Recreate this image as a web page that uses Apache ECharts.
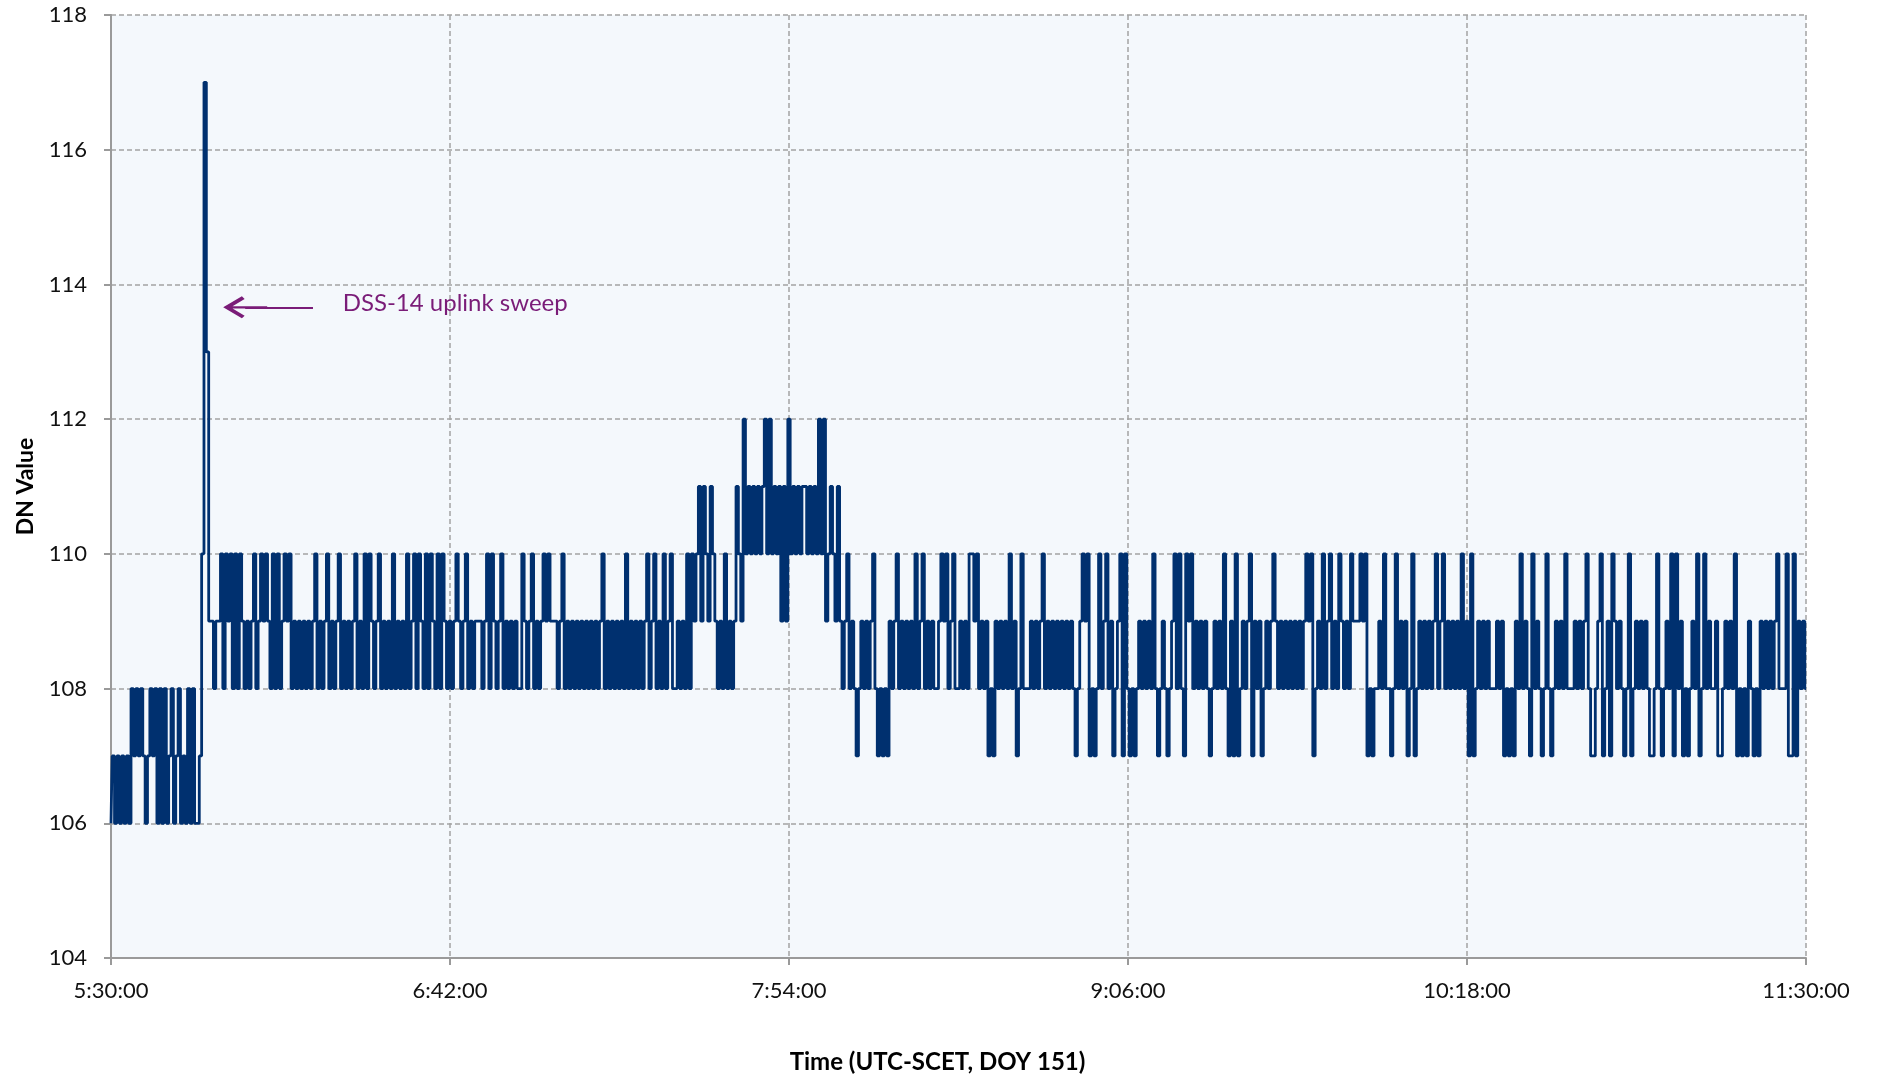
<!DOCTYPE html>
<html>
<head>
<meta charset="utf-8">
<script src="https://cdn.jsdelivr.net/npm/echarts@6/dist/echarts.min.js"></script>
<style>
html,body{margin:0;padding:0;background:#fff;}
#chart{width:1877px;height:1079px;}
</style>
</head>
<body>
<div id="chart"></div>
<script>
// Sample spacing (minutes) and hourly blocks of DN values starting at 5:30, 6:30, ... 10:30
const sampleStepMin = 0.5;
const hour1 = [106,107,106,107,106,107,106,107,106,108,107,108,107,108,107,106,107,108,107,108,
  106,108,106,108,106,107,108,106,107,108,106,107,106,108,106,108,106,106,107,110,
  117,113,109,109,108,109,109,110,108,110,109,110,108,110,108,110,109,108,109,108,
  109,110,108,109,110,109,110,109,108,110,108,110,108,109,110,109,110,108,109,108,
  109,108,109,108,109,108,109,110,108,109,108,109,110,108,109,108,109,110,108,109,
  108,109,108,109,110,108,109,108,110,108,110,109,108,109,110,108,109,108,109,108];
const hour2 = [110,108,109,108,109,108,110,108,109,110,108,110,109,108,110,108,110,109,108,110,
  108,110,109,108,109,108,109,110,109,108,109,110,108,109,108,109,109,109,108,109,
  110,108,110,109,108,109,110,108,109,108,109,108,109,108,108,110,109,108,109,110,
  108,109,108,109,110,109,110,109,109,109,108,109,110,108,109,108,109,108,109,108,
  109,108,109,108,109,108,109,108,109,110,108,109,108,109,108,109,108,109,108,110,
  108,109,108,109,108,109,108,109,110,108,109,110,108,109,108,110,108,109,110,108];
const hour3 = [108,109,108,109,108,110,108,110,109,110,111,109,111,110,109,111,110,109,108,109,
  108,110,108,109,108,109,111,110,109,112,110,111,110,111,110,111,110,111,112,110,
  112,110,111,110,111,109,111,109,112,110,111,110,111,110,111,111,110,111,110,111,
  110,112,110,112,109,110,111,110,109,111,109,108,109,110,108,109,108,107,108,109,
  108,109,108,109,110,108,107,108,107,108,107,109,108,109,110,108,109,108,109,108,
  109,108,110,108,109,110,108,109,108,109,108,108,109,110,109,110,108,109,110,108];
const hour4 = [108,109,108,109,108,110,110,109,110,108,109,108,109,107,108,107,109,108,109,108,
  109,108,110,108,109,107,108,110,108,108,108,109,108,109,108,109,110,108,109,108,
  109,108,109,108,109,108,109,108,109,108,107,108,109,110,109,110,107,108,107,108,
  110,108,109,110,108,109,107,108,109,110,107,110,108,107,108,107,108,109,108,109,
  108,109,108,110,108,107,108,109,108,107,108,109,110,108,110,108,107,110,109,110,
  108,109,108,109,108,109,108,107,108,109,108,109,108,110,108,107,109,107,110,107];
const hour5 = [108,109,108,109,110,107,109,108,109,107,108,109,108,109,110,109,108,109,108,109,
  108,109,108,109,108,109,108,109,110,109,110,107,108,109,108,110,108,109,110,108,
  109,108,110,109,108,109,108,110,109,109,109,110,109,110,107,108,107,108,108,109,
  108,110,108,108,107,108,110,108,109,108,109,107,108,110,107,108,109,108,109,108,
  109,108,109,110,108,109,110,108,109,108,109,108,109,108,110,108,109,107,110,107,
  108,109,108,109,108,109,108,108,108,109,108,109,107,108,107,108,107,109,108,110];
const hour6 = [108,109,108,107,110,108,109,108,107,108,110,108,107,108,109,108,109,108,110,108,
  108,108,109,108,109,108,109,110,108,107,107,108,109,110,107,108,109,107,110,109,
  108,109,108,107,108,110,107,108,109,108,109,108,109,108,107,107,108,110,108,107,
  108,109,108,110,107,110,108,109,107,108,107,108,109,108,110,107,108,110,108,109,
  108,108,109,107,107,108,109,108,109,108,110,107,108,107,108,107,109,108,107,108,
  107,109,108,109,108,109,108,109,110,108,108,108,110,107,107,110,107,109,108,109,108];
const hourBlocks = [hour1, hour2, hour3, hour4, hour5, hour6];
const xTickLabels = ['5:30:00','6:42:00','7:54:00','9:06:00','10:18:00','11:30:00'];
const annotationText = 'DSS-14 uplink sweep';
const arrowTailMin = 42.9, arrowEndMin = 28.5, arrowValue = 113.66;
const textStartMin = 49.2, textValue = 113.72;

const seriesData = [];
hourBlocks.forEach(function (block, k) {
  block.forEach(function (v, j) {
    seriesData.push([k * 60 + j * sampleStepMin, v]);
  });
});

const chart = echarts.init(document.getElementById('chart'));
const gridColor = '#A3A3A3';
const fontFam = 'Lato, "Open Sans", sans-serif';
chart.setOption({
  animation: false,
  backgroundColor: '#ffffff',
  grid: {
    left: 111, right: 71, top: 15, bottom: 114,
    show: true, backgroundColor: '#F4F8FC', borderWidth: 0
  },
  xAxis: {
    type: 'value', min: 0, max: 360, interval: 72,
    name: 'Time (UTC-SCET, DOY 151)',
    nameLocation: 'middle', nameGap: 92,
    nameTextStyle: { fontFamily: fontFam, fontWeight: 'bold', fontSize: 24, color: '#000', padding: [0, 42, 0, 0] },
    axisLine: { show: true, onZero: false, lineStyle: { color: '#9A9A9A', width: 2 } },
    axisTick: { show: true, length: 7, lineStyle: { color: '#9A9A9A', width: 2 } },
    axisLabel: {
      margin: 22, fontFamily: fontFam, fontSize: 22, color: '#111',
      formatter: function (v) { return xTickLabels[Math.round(v / 72)]; }
    },
    splitLine: { show: true, lineStyle: { color: gridColor, type: [5, 3], width: 1.5 } }
  },
  yAxis: {
    type: 'value', min: 104, max: 118, interval: 2,
    name: 'DN Value',
    nameLocation: 'middle', nameGap: 74, nameRotate: 90,
    nameTextStyle: { fontFamily: fontFam, fontWeight: 'bold', fontSize: 23, color: '#000' },
    axisLine: { show: true, lineStyle: { color: '#9A9A9A', width: 2 } },
    axisTick: { show: true, length: 7, lineStyle: { color: '#9A9A9A', width: 2 } },
    axisLabel: { margin: 24, fontFamily: fontFam, fontSize: 22, color: '#111' },
    splitLine: { show: true, lineStyle: { color: gridColor, type: [5, 3], width: 1.5 } }
  },
  series: [{
    type: 'line',
    data: seriesData,
    step: 'middle',
    showSymbol: false,
    symbol: 'none',
    lineStyle: { color: '#00306F', width: 2.8 },
    z: 3,
    markLine: {
      silent: true,
      animation: false,
      lineStyle: { color: '#7A1C78', width: 2.2, type: 'solid' },
      label: { show: false },
      data: [[
        { coord: [arrowTailMin, arrowValue], symbol: 'none' },
        { coord: [arrowEndMin, arrowValue],
          symbol: 'path://M10,0 L20,17 L17.6,19.5 L11,8.5 L11,40 L9,40 L9,8.5 L2.4,19.5 L0,17 Z',
          symbolSize: [22, 44] }
      ]]
    },
    markPoint: {
      silent: true,
      animation: false,
      symbol: 'circle', symbolSize: 0,
      label: {
        show: true, position: 'right', distance: 0,
        fontFamily: fontFam, fontSize: 24, color: '#7A1C78',
        formatter: function () { return annotationText; }
      },
      data: [{ coord: [textStartMin, textValue] }]
    }
  }]
});
</script>
</body>
</html>
